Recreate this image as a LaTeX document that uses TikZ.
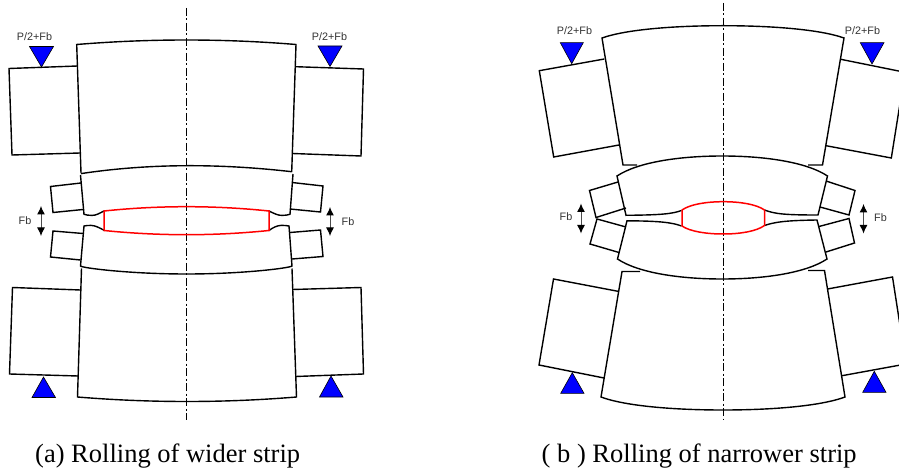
\documentclass[tikz,border=0pt]{standalone}
\usepackage{fontspec}
\setmainfont{Liberation Serif}
\newfontfamily\lblfont{Liberation Sans}
\usetikzlibrary{arrows.meta}
\definecolor{rollblue}{RGB}{0,0,255}
\tikzset{
  outline/.style={draw=black,line width=1.4pt,line join=miter},
  strip/.style={draw=red,line width=1.5pt},
  axisline/.style={draw=black,line width=1pt,dash pattern=on 8pt off 2.5pt on 2pt off 2.5pt},
  load/.style={draw=black,fill=rollblue,line width=0.6pt},
  fbarrow/.style={draw=black!70,line width=1pt,{Latex[length=8.5pt,width=8pt,black]}-{Latex[length=8.5pt,width=8pt,black]}},
  small/.style={font=\lblfont\fontsize{10.8}{12}\selectfont,text=black!80,inner sep=0pt},
  caption/.style={font=\fontsize{26.5}{30}\selectfont,anchor=base west,inner sep=0pt}
}
% parabola-like bow: x1,y1,ymid,x2,y2
\newcommand{\bow}[5]{.. controls ({#1+(#4-(#1))/3},{#2+4/3*(#3-(#2))}) and ({#4-(#4-(#1))/3},{#5+4/3*(#3-(#5))}) .. (#4,#5)}
% fuller elliptical bow
\newcommand{\ebow}[5]{.. controls ({#1+0.1*(#4-(#1))},{#2+0.7*(#3-(#2))}) and ({#1+0.3*(#4-(#1))},#3) .. ({(#1+#4)/2},#3) .. controls ({#4-0.3*(#4-(#1))},#3) and ({#4-0.1*(#4-(#1))},{#5+0.7*(#3-(#5))}) .. (#4,#5)}
\begin{document}
\begin{tikzpicture}[x=1pt,y=-1pt]
\useasboundingbox (0,0) rectangle (899,470);
\clip (0,0) rectangle (899,470);
% ---------- (a) wider strip ----------
\draw[axisline] (186.5,8) -- (186.5,420);
% upper backup roll
\draw[outline] (81,173) -- (76.7,44.5) \bow{76.7}{44.5}{40}{296}{44.5} -- (291.7,172);
\draw[outline] (81,173.6) \bow{81}{173.6}{165.7}{291.7}{171.7};
% lower backup roll
\draw[outline] (81.5,268.5) -- (77.5,397) \bow{77.5}{397}{401.5}{296.5}{397} -- (292,268.5);
% big chocks
\draw[outline] (77.5,66) -- (9,68.5) -- (12,155) -- (80,153);
\draw[outline] (295.5,66.7) -- (363.5,69) -- (361,156) -- (292.5,153.5);
\draw[outline] (80.5,290) -- (12.5,287.5) -- (9.5,374) -- (78,376);
\draw[outline] (292.5,289.5) -- (361,287.5) -- (363.5,374) -- (295.5,376.5);
% upper work roll
\draw[outline] (104,211) .. controls (99,213.5) and (96,215.5) .. (91.7,215.4) .. controls (89,215.4) and (86,215) .. (84,214.3) -- (80.5,175);
\draw[outline] (269,211) .. controls (274,213.5) and (278,215.5) .. (282,215.4) .. controls (285,215.4) and (288,215) .. (290,214.3) -- (293,174);
% lower work roll
\draw[outline] (104.5,230.5) .. controls (99,227.5) and (95,225.5) .. (91,225.4) .. controls (88,225.4) and (86,225.6) .. (84,226) -- (80.5,266) .. controls (82,268) and (130,274) .. (186.5,274) .. controls (243,274) and (290,268) .. (292,266) -- (289,226) .. controls (286,225.5) and (284,225.3) .. (281,225.4) .. controls (277,225.6) and (273,227.5) .. (269,230.5);
% small chocks
\draw[outline] (81,183) -- (50.5,186.5) -- (53,212.5) -- (83,209.5);
\draw[outline] (292,182.5) -- (323,186) -- (320.5,212) -- (290,209);
\draw[outline] (83,233.5) -- (53,231) -- (50.5,257) -- (80.5,260);
\draw[outline] (290,232.5) -- (320.5,230) -- (323,256.5) -- (292,259);
% strip
\draw[strip] (104,211) \bow{104}{211}{206.7}{269}{211} -- (269,230.5) \bow{269}{230.5}{234.7}{104}{230.5} -- cycle;
% loads
\draw[load] (29.5,46.5) -- (53.5,46.5) -- (41.5,67) -- cycle;
\draw[load] (318,46) -- (342,46) -- (330,66.5) -- cycle;
\draw[load] (43.5,377) -- (55.5,397.5) -- (32,397.5) -- cycle;
\draw[load] (331,376) -- (343,397) -- (319.5,397) -- cycle;
% labels
\node[small] (la1) at (34.5,36.5) {P/2+Fb};
\node[small] (la2) at (329.5,36.5) {P/2+Fb};
\node[small] (la3) at (25,220.5) {Fb};
\node[small] (la4) at (348,221.5) {Fb};
\coordinate (fa1t) at (41,206); \coordinate (fa1b) at (41,236);
\coordinate (fa2t) at (330,207); \coordinate (fa2b) at (330,236);
\draw[fbarrow] (fa1t) -- (fa1b);
\draw[fbarrow] (fa2t) -- (fa2b);
\node[caption] (capa) at (35,462.5) {(a) Rolling of wider strip};
% ---------- (b) narrower strip ----------
\draw[axisline] (723.5,3) -- (723.5,420);
% upper backup roll
\draw[outline] (637,165) -- (623,165) -- (602,38) \ebow{602}{38}{25.7}{844}{38} -- (822.5,165) -- (808,165);
% lower backup roll
\draw[outline] (640,271.5) -- (622,271.5) -- (601,397) \ebow{601}{397}{410}{845}{397} -- (824.5,270.5) -- (808,270.5);
% big chocks
\draw[outline] (604.3,59) -- (539.3,70.7) -- (553.7,157) -- (619,145);
\draw[outline] (840.7,59.3) -- (905,72.3) -- (891.3,158) -- (826,145.7);
\draw[outline] (619,291.5) -- (553.5,279) -- (539,365) -- (604,378);
\draw[outline] (827.5,289) -- (892.5,277) -- (906,364) -- (842,375.7);
% upper work roll
\draw[outline] (681.5,210.5) .. controls (672,214) and (660,215) .. (626,215.3) -- (617,176) \ebow{617}{176}{156}{827.5}{176} -- (818,215) .. controls (785,215) and (775,214) .. (764.5,210);
% lower work roll
\draw[outline] (681.5,226) .. controls (672,222.5) and (660,221) .. (627,220.8) -- (617.5,259) \ebow{617.5}{259}{279}{827}{259} -- (817,220) .. controls (785,220.5) and (775,222) .. (764.5,225.5);
% small chocks
\draw[outline] (618,182) -- (589.5,190.5) -- (596,217.5) -- (626,208);
\draw[outline] (826,181) -- (855,190.5) -- (849,215) -- (820,207);
\draw[outline] (626,227) -- (597,219) -- (590,244) -- (619,252.5);
\draw[outline] (819,226.5) -- (849,218.5) -- (854.5,243) -- (826,252);
% strip
\draw[strip] (682,210) \ebow{682}{210}{201.7}{764.5}{210} -- (764.5,225.5) \ebow{764.5}{225.5}{234}{682}{226} -- cycle;
% loads
\draw[load] (560.3,42.7) -- (583.3,42.7) -- (571.7,63.7) -- cycle;
\draw[load] (860.3,42.7) -- (884,42.7) -- (872,64) -- cycle;
\draw[load] (572.3,372.7) -- (584,393.3) -- (560.7,393.3) -- cycle;
\draw[load] (874.3,371.3) -- (886,392.3) -- (862.7,392.3) -- cycle;
% labels
\node[small] (lb1) at (574.5,31) {P/2+Fb};
\node[small] (lb2) at (862.5,31) {P/2+Fb};
\node[small] (lb3) at (566,217) {Fb};
\node[small] (lb4) at (880.5,218) {Fb};
\coordinate (fb1t) at (581,203.5); \coordinate (fb1b) at (581,233.5);
\coordinate (fb2t) at (863.5,204); \coordinate (fb2b) at (863.5,233.5);
\draw[fbarrow] (fb1t) -- (fb1b);
\draw[fbarrow] (fb2t) -- (fb2b);
\node[caption] (capb) at (541.5,462.5) {( b ) Rolling of narrower strip};
\end{tikzpicture}
\end{document}
